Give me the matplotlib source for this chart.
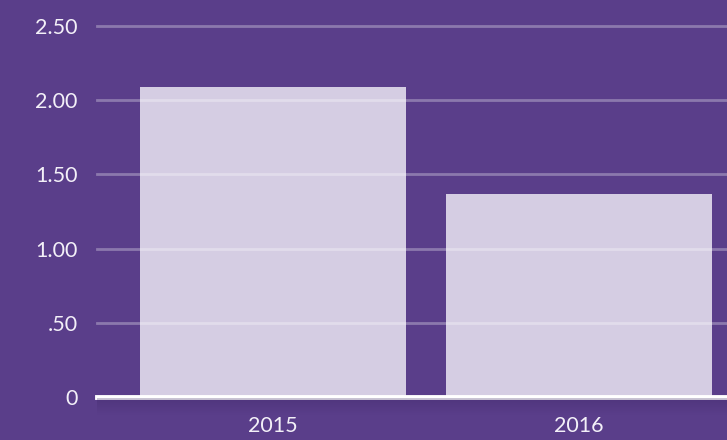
import matplotlib
matplotlib.use("Agg")
import matplotlib.pyplot as plt
import numpy as np

categories = ["2015", "2016"]
values = [2.09, 1.37]
yticks = [0, 0.5, 1.0, 1.5, 2.0, 2.5]
ytick_labels = ["0", ".50", "1.00", "1.50", "2.00", "2.50"]

BG = "#5a3e8a"
BAR = "#d5cde3"
TXT = "#f3f0f8"

W, H = 727, 440
fig = plt.figure(figsize=(W / 100, H / 100), dpi=100, facecolor=BG)
ax = fig.add_axes([97 / W, 43 / H, (W - 97) / W, (397 - 26) / H])
ax.set_facecolor(BG)

x = np.arange(len(categories))
ax.bar(x, values, width=0.87, color=BAR, zorder=2)
ax.set_xlim(-0.575, 1.484)
ax.set_ylim(0, 2.5)

for yv in yticks[1:]:
    ax.axhline(yv, color="white", alpha=0.3, lw=2, zorder=3, clip_on=False)
ax.axhline(0, color="white", lw=3.5, zorder=4, clip_on=False)

ax.set_yticks(yticks)
ax.set_yticklabels(ytick_labels)
ax.set_xticks(x)
ax.set_xticklabels(categories)
ax.tick_params(axis="y", length=0, pad=14, labelsize=15.5, labelcolor=TXT)
ax.tick_params(axis="x", length=0, pad=14, labelsize=15.5, labelcolor=TXT)
for lab in ax.get_xticklabels() + ax.get_yticklabels():
    lab.set_family(["Lato", "DejaVu Sans"])
for s in ax.spines.values():
    s.set_visible(False)

# subtle shadow under baseline
sh = fig.add_axes([97 / W, (43 - 18) / H, (W - 97) / W, 17 / H])
sh.axis("off")
grad = np.linspace(0.28, 0.0, 50).reshape(-1, 1)
rgba = np.zeros((50, 1, 4))
rgba[..., 0] = 0.2
rgba[..., 1] = 0.12
rgba[..., 2] = 0.35
rgba[..., 3] = grad
sh.imshow(rgba, aspect="auto", extent=[0, 1, 0, 1], origin="upper")

fig.savefig("out.png", dpi=100, facecolor=BG)
